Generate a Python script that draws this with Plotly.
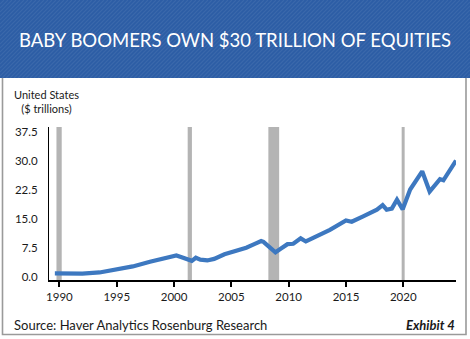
import plotly.graph_objects as go

# Equities held by baby boomers, United States ($ trillions)
years = [1989.6, 1990.5, 1992.0, 1993.5, 1995.0, 1996.4, 1997.9, 1999.3, 2000.2, 2000.6,
         2001.3, 2001.55, 2001.9, 2002.3, 2002.9, 2003.5, 2004.4, 2005.3, 2006.3, 2007.0,
         2007.6, 2007.8, 2008.35, 2008.85, 2009.3, 2009.9, 2010.4, 2011.05, 2011.5, 2013.6,
         2015.0, 2015.5, 2016.5, 2017.7, 2018.2, 2018.55, 2019.0, 2019.45, 2019.95, 2020.6,
         2021.65, 2022.3, 2023.2, 2023.5, 2024.6]
equities = [0.95, 0.85, 0.9, 1.2, 1.9, 2.75, 3.95, 5.1, 5.6, 5.2,
            4.25, 4.2, 5.0, 4.5, 4.3, 4.7, 5.9, 6.7, 7.6, 8.5,
            9.3, 9.1, 7.7, 6.4, 7.3, 8.5, 8.6, 10.0, 9.2, 12.2,
            14.6, 14.3, 15.7, 17.4, 18.6, 17.4, 17.7, 20.0, 17.5, 22.6,
            27.3, 22.1, 25.3, 25.0, 30.1]

# Recession periods (shaded)
recession_start = [1989.74, 2001.19, 2008.23, 2019.86]
recession_end = [1990.2, 2001.56, 2009.17, 2020.12]

x_ticks = [1990, 1995, 2000, 2005, 2010, 2015, 2020]
y_ticks = [0.0, 7.5, 15.0, 22.5, 30.0, 37.5]

W, H = 470, 339
L, R, T, B = 49, 456, 127, 280  # plot area in pixels

def px(x):
    return (x - L) / (R - L)

def py(y):
    return (B - y) / (B - T)

FONT = "Lato"
BLUE = "#2c5da5"

fig = go.Figure()
fig.add_trace(go.Scatter(
    x=years, y=equities, mode="lines",
    line=dict(color="#3d78c0", width=4.2),
    hoverinfo="skip", showlegend=False,
))

shapes = []
for s, e in zip(recession_start, recession_end):
    shapes.append(dict(type="rect", xref="x", yref="y domain", x0=s, x1=e, y0=0, y1=1,
                       fillcolor="#b4b4b4", line=dict(width=0), layer="below"))

# panel frame
shapes.append(dict(type="rect", xref="paper", yref="paper",
                   x0=px(2.5), x1=px(466), y0=py(334.5), y1=py(70),
                   fillcolor="rgba(0,0,0,0)", line=dict(color="#9a9a9a", width=1.6),
                   layer="below"))
# header band
shapes.append(dict(type="rect", xref="paper", yref="paper",
                   x0=px(0), x1=px(470), y0=py(78), y1=py(0),
                   fillcolor=BLUE, line=dict(width=0), layer="below"))

# diagonal texture on the header band
hx0, hx1, hy0, hy1 = 0.0, 470.0, 0.0, 78.0
segs = []
step = 4.0
c = hx0 - (hy1 - hy0)
while c < hx1:
    # line: x = c + (hy1 - y)  going from bottom-left to top-right
    xa, ya = c, hy1
    xb, yb = c + (hy1 - hy0), hy0
    if xa < hx0:
        ya = hy1 - (hx0 - xa)
        xa = hx0
    if xb > hx1:
        yb = yb + (xb - hx1)
        xb = hx1
    if xb > xa:
        segs.append(f"M{px(xa):.5f},{py(ya):.5f}L{px(xb):.5f},{py(yb):.5f}")
    c += step
shapes.append(dict(type="path", xref="paper", yref="paper", path="".join(segs),
                   line=dict(color="rgba(255,255,255,0.07)", width=1.2), layer="below"))

annotations = [
    dict(text="BABY BOOMERS OWN $30 TRILLION OF EQUITIES", xref="paper", yref="paper",
         x=px(235), y=py(40), xanchor="center", yanchor="middle", showarrow=False,
         font=dict(family=FONT, size=18.5, color="white")),
    dict(text="United States<br>($ trillions)", xref="paper", yref="paper",
         x=px(46), y=py(101.5), xanchor="center", yanchor="middle", showarrow=False,
         align="center", font=dict(family=FONT, size=11, color="#1a1a1a")),
    dict(text="Source: Haver Analytics Rosenburg Research", xref="paper", yref="paper",
         x=px(12), y=py(325), xanchor="left", yanchor="middle", showarrow=False,
         font=dict(family=FONT, size=13, color="#1a1a1a")),
    dict(text="<b><i>Exhibit 4</i></b>", xref="paper", yref="paper",
         x=px(457), y=py(325), xanchor="right", yanchor="middle", showarrow=False,
         font=dict(family=FONT, size=13, color="#1a1a1a")),
]

fig.update_layout(
    width=W, height=H,
    margin=dict(l=L, r=W - R, t=T, b=H - B, pad=0),
    paper_bgcolor="white", plot_bgcolor="white",
    shapes=shapes, annotations=annotations,
    font=dict(family=FONT, color="#1a1a1a"),
    xaxis=dict(range=[1989.09, 2024.6], tickvals=x_ticks,
               ticktext=[str(v) for v in x_ticks],
               showgrid=False, zeroline=False, showline=True, linecolor="black",
               linewidth=2, ticks="outside", ticklen=5, tickwidth=2, tickcolor="black",
               tickfont=dict(family=FONT, size=11.5, color="#1a1a1a")),
    yaxis=dict(range=[-0.75, 38.75], tickvals=y_ticks,
               ticktext=[f"{v:.1f}" for v in y_ticks],
               showgrid=False, zeroline=False, showline=True, linecolor="black",
               linewidth=1, ticks="", ticklabelstandoff=8,
               tickfont=dict(family=FONT, size=11.5, color="#1a1a1a")),
)

fig.write_html("out.html")
